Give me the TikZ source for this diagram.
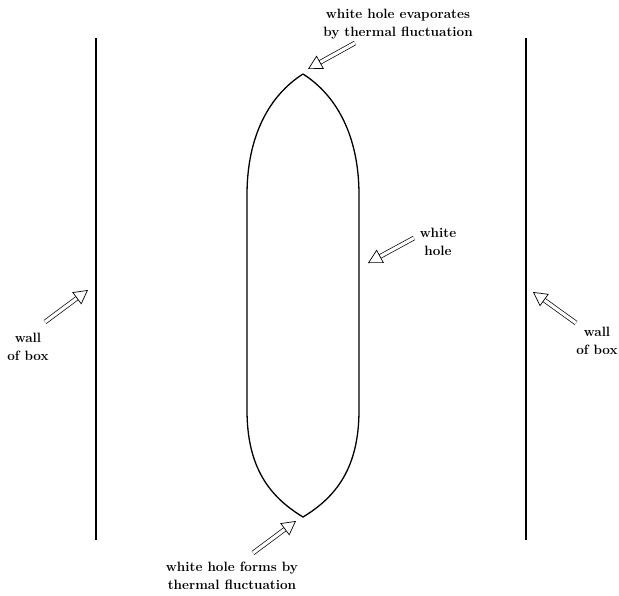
\documentclass[tikz,border=0pt]{standalone}
\usepackage{tikz}
\usetikzlibrary{arrows.meta}
\tikzset{
  wallLine/.style={line width=1.2pt, draw=black},
  holeLine/.style={line width=1.3pt, draw=black},
  hollowArrow/.style={double=white, draw=black, line width=0.7pt, double distance=3.2pt, -{Triangle[open, length=14pt, width=15pt]}},
  noteLabel/.style={font=\fontsize{13.5}{18}\selectfont\bfseries, align=center, inner sep=0pt}
}
\begin{document}
\begin{tikzpicture}[x=1pt,y=-1pt]
  \useasboundingbox (0,0) rectangle (619,595);
  % walls of the box
  \draw[wallLine] (96,38) -- (96,540);
  \draw[wallLine] (526,38) -- (526,540);
  % the white hole
  \coordinate (holeTop) at (303,74);
  \coordinate (holeBot) at (303,517);
  \draw[holeLine] (holeTop) .. controls (270,95) and (247,135) .. (247,195)
    -- (247,410) .. controls (247,468) and (270,497) .. (holeBot)
    .. controls (336,497) and (359,468) .. (359,410)
    -- (359,195) .. controls (359,135) and (336,95) .. (holeTop);
  % labels
  \node[noteLabel] (evapLabel) at (398,24) {white hole evaporates\\by thermal fluctuation};
  \node[noteLabel] (holeLabel) at (438,242) {white\\hole};
  \node[noteLabel] (leftLabel) at (28,347) {wall\\of box};
  \node[noteLabel] (rightLabel) at (597,341) {wall\\of box};
  \node[noteLabel] (formLabel) at (232,576) {white hole forms by\\thermal fluctuation};
  % arrow ends
  \coordinate (evapTail) at (355,43);
  \coordinate (evapTip) at (308,69);
  \coordinate (holeTail) at (414,238);
  \coordinate (holeTip) at (368,263);
  \coordinate (leftTail) at (45,322);
  \coordinate (leftTip) at (88,290);
  \coordinate (rightTail) at (576,323);
  \coordinate (rightTip) at (533,292);
  \coordinate (formTail) at (253,553);
  \coordinate (formTip) at (296,521);
  \draw[hollowArrow] (evapTail) -- (evapTip);
  \draw[hollowArrow] (holeTail) -- (holeTip);
  \draw[hollowArrow] (leftTail) -- (leftTip);
  \draw[hollowArrow] (rightTail) -- (rightTip);
  \draw[hollowArrow] (formTail) -- (formTip);
\end{tikzpicture}
\end{document}
